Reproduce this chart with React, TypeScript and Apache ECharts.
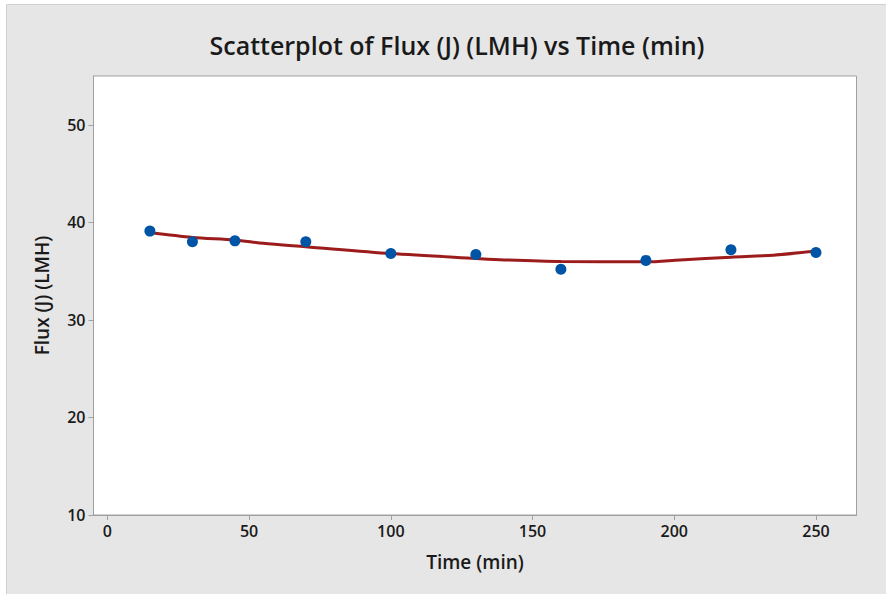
import React, { useEffect, useRef } from "react";
import * as echarts from "echarts";

const timeMin = [15, 30, 45, 70, 100, 130, 160, 190, 220, 250];
const fluxLMH = [39.1, 38.0, 38.1, 38.0, 36.8, 36.7, 35.2, 36.1, 37.2, 36.9];

const fitTime = [15, 30, 45, 55, 70, 100, 130, 140, 160, 190, 202, 220, 235, 250];
const fitFlux = [38.95, 38.45, 38.2, 37.85, 37.5, 36.8, 36.3, 36.15, 35.98, 35.95, 36.15, 36.43, 36.63, 37.05];

const xTicks = [0, 50, 100, 150, 200, 250];
const yTicks = [10, 20, 30, 40, 50];

const FONT = "'Open Sans', 'Noto Sans', sans-serif";

export default function App() {
  const ref = useRef<HTMLDivElement>(null);
  useEffect(() => {
    document.body.style.margin = "0";
    const chart = echarts.init(ref.current!, null, { renderer: "svg" });
    chart.setOption({
      animation: false,
      backgroundColor: "#ffffff",
      graphic: [
        {
          type: "rect",
          z: -10,
          shape: { x: 6.5, y: 4.5, width: 900, height: 600 },
          style: { fill: "#e6e6e6", stroke: "#d0d0d0", lineWidth: 1 },
        },
      ],
      title: {
        text: "Scatterplot of Flux (J) (LMH) vs Time (min)",
        left: 452,
        textAlign: "center",
        top: 27,
        textStyle: { fontFamily: FONT, fontSize: 25, fontWeight: 600, color: "#1a1a1a" },
      },
      grid: {
        left: 93.5,
        top: 76,
        right: 29.5,
        bottom: 79,
        show: true,
        backgroundColor: "#ffffff",
        borderColor: "#a0a0a0",
        borderWidth: 1,
      },
      xAxis: {
        type: "value",
        min: -4.9,
        max: 264.3,
        name: "Time (min)",
        nameLocation: "middle",
        nameGap: 37,
        nameTextStyle: { fontFamily: FONT, fontSize: 19, fontWeight: 600, color: "#1a1a1a" },
        axisLine: { show: true, onZero: false, lineStyle: { color: "#a0a0a0" } },
        axisTick: { show: true, length: 5, lineStyle: { color: "#a0a0a0" }, customValues: xTicks },
        axisLabel: {
          customValues: xTicks,
          margin: 8,
          fontFamily: FONT,
          fontSize: 16,
          fontWeight: 600,
          color: "#1a1a1a",
        },
        splitLine: { show: false },
      },
      yAxis: {
        type: "value",
        min: 10,
        max: 55,
        name: "Flux (J) (LMH)",
        nameLocation: "middle",
        nameGap: 42,
        nameTextStyle: { fontFamily: FONT, fontSize: 19, fontWeight: 600, color: "#1a1a1a" },
        axisLine: { show: true, onZero: false, lineStyle: { color: "#a0a0a0" } },
        axisTick: { show: true, length: 5, lineStyle: { color: "#a0a0a0" }, customValues: yTicks },
        axisLabel: {
          customValues: yTicks,
          margin: 8,
          fontFamily: FONT,
          fontSize: 16,
          fontWeight: 600,
          color: "#1a1a1a",
        },
        splitLine: { show: false },
      },
      series: [
        {
          type: "line",
          data: fitTime.map((t, i) => [t, fitFlux[i]]),
          showSymbol: false,
          smooth: 0.3,
          lineStyle: { color: "#9c1c1c", width: 3 },
          z: 2,
        },
        {
          type: "scatter",
          data: timeMin.map((t, i) => [t, fluxLMH[i]]),
          symbolSize: 11,
          itemStyle: { color: "#0054a6", opacity: 1 },
          z: 3,
        },
      ],
    });
    return () => chart.dispose();
  }, []);
  return <div ref={ref} style={{ width: 886, height: 594 }} />;
}
